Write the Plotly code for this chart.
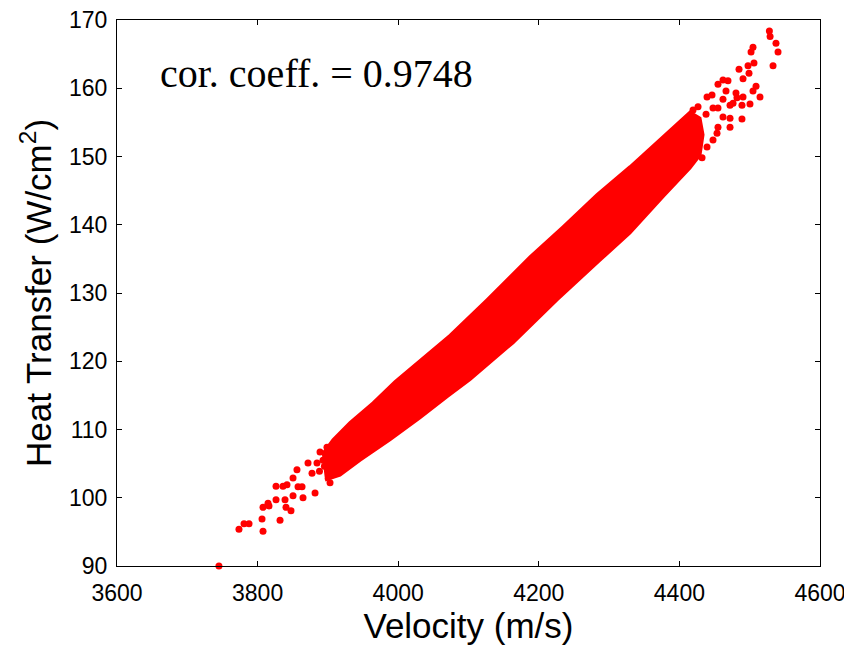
import plotly.graph_objects as go

# Dense core of the point cloud: outline of the fully overlapping region
band_upper_x = [3891.6, 3907.3, 3931.4, 3964.2, 3995.5, 4021.1, 4073.7, 4126.3, 4187.5,
                4234.4, 4282.8, 4329.7, 4376.7, 4415.1, 4429.3, 4433.6]
band_upper_y = [106.3, 108.5, 111.0, 113.9, 117.0, 119.2, 123.8, 129.0, 135.3,
                139.7, 144.4, 148.5, 152.9, 156.5, 155.6, 153.2]
band_lower_x = [4429.3, 4415.1, 4376.7, 4329.7, 4287.1, 4225.9, 4163.3, 4102.1, 4069.4,
                4031.0, 3988.3, 3945.7, 3917.2, 3895.9]
band_lower_y = [150.2, 148.3, 144.1, 138.8, 134.8, 129.0, 122.7, 117.3, 114.8,
                111.7, 108.5, 105.5, 103.3, 102.6]

# Individually visible points (low tail)
low_x = [3745, 3773.5, 3780.7, 3787.8, 3806.3, 3807.7, 3807.7, 3814.8, 3816.2, 3826.2,
         3831.9, 3826.2, 3836.1, 3840.4, 3841.8, 3847.5, 3850.4, 3839, 3850.4, 3856,
         3857.5, 3863.2, 3864.6, 3871.7, 3877.4, 3888.8, 3898.7, 3881.7, 3903, 3884.5, 3893,
         3895, 3903, 3910, 3888]
low_y = [90.0, 95.4, 96.2, 96.2, 96.9, 95.1, 98.6, 99.2, 98.8, 99.7,
         96.7, 101.7, 101.7, 98.6, 101.9, 98.1, 100.3, 99.7, 102.9, 104.1,
         101.6, 101.6, 100.0, 105.1, 103.6, 106.7, 107.4, 100.7, 102.2, 105.1, 105.5,
         104.6, 107.3, 103.8, 103.9]

# Individually visible points (high tail)
high_x = [4528, 4529, 4537.4, 4540.3, 4533.2, 4504.7, 4501.9, 4506.1, 4497.6, 4484.8,
          4499, 4490.5, 4462, 4469.1, 4454.9, 4466.3, 4509, 4504.7, 4514.7, 4480.5,
          4481.9, 4490.5, 4476.3, 4472, 4489, 4500.4, 4462, 4446.4, 4439.3, 4447.8,
          4454.9, 4462, 4472, 4489, 4472, 4454.9, 4453.5, 4437.9, 4426.5, 4419.4,
          4447.8, 4439.3, 4432.2, 4425.1]
high_y = [168.4, 167.6, 166.6, 165.3, 163.3, 166.0, 165.3, 163.7, 163.3, 162.8,
          162.2, 161.4, 161.2, 161.1, 160.6, 159.6, 160.3, 159.6, 158.7, 159.3,
          158.6, 158.7, 157.8, 157.5, 157.5, 157.7, 158.4, 159.0, 158.7, 157.1,
          157.1, 155.8, 155.6, 155.5, 154.3, 154.3, 153.4, 156.2, 157.3, 156.8,
          152.4, 151.4, 149.8, 153.4]

x_ticks = [3600, 3800, 4000, 4200, 4400, 4600]
y_ticks = [90, 100, 110, 120, 130, 140, 150, 160, 170]
annotation_text = "cor. coeff. = 0.9748"

RED = "#ff0000"
SANS = "Liberation Sans, Arial"

fig = go.Figure()
fig.add_trace(go.Scatter(
    x=band_upper_x + band_lower_x, y=band_upper_y + band_lower_y,
    mode="lines", fill="toself", fillcolor=RED,
    line=dict(color=RED, width=3), hoverinfo="skip", showlegend=False))
fig.add_trace(go.Scatter(
    x=low_x + high_x, y=low_y + high_y, mode="markers",
    marker=dict(color=RED, size=7, line=dict(width=0)),
    cliponaxis=False, showlegend=False))

axis_common = dict(showline=True, linecolor="black", linewidth=1.2, mirror="ticks",
                   ticks="inside", ticklen=5, tickcolor="black", tickwidth=1,
                   showgrid=False, zeroline=False, automargin=False,
                   ticklabeloverflow="allow",
                   tickfont=dict(family=SANS, size=23, color="black"))

# page body has an 8px margin, so the figure is sized to fit the 852x646 window
fig.update_layout(
    width=844, height=638,
    margin=dict(l=109, r=32, t=12, b=80),
    plot_bgcolor="white", paper_bgcolor="white",
    xaxis=dict(range=[3600, 4600], tickvals=x_ticks, ticklabelstandoff=6,
               title=dict(text="Velocity (m/s)", standoff=4,
                          font=dict(family=SANS, size=35, color="black")),
               **axis_common),
    yaxis=dict(range=[90, 170], tickvals=y_ticks, ticklabelstandoff=4,
               title=dict(text="Heat Transfer (W/cm<sup>2</sup>)", standoff=6,
                          font=dict(family=SANS, size=35, color="black")),
               **axis_common),
    annotations=[dict(x=3658, y=162.2, xref="x", yref="y", text=annotation_text,
                      showarrow=False, xanchor="left", yanchor="middle",
                      font=dict(family="Liberation Serif, Times New Roman", size=40, color="black"))],
)

fig.write_html("out.html")
